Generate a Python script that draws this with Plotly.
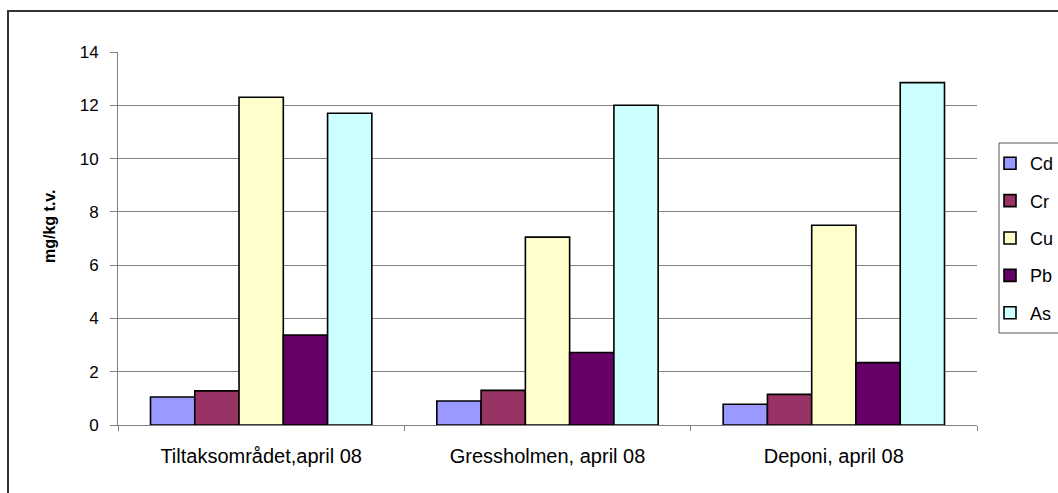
import plotly.graph_objects as go

# Sampling sites and metal concentrations (mg/kg t.v.)
sites = ["Tiltaksområdet,april 08", "Gressholmen, april 08", "Deponi, april 08"]
metals = ["Cd", "Cr", "Cu", "Pb", "As"]
cd = [1.05, 0.9, 0.78]
cr = [1.28, 1.3, 1.15]
cu = [12.3, 7.05, 7.5]
pb = [3.38, 2.72, 2.34]
as_ = [11.7, 12.0, 12.85]
colors = ["#9999FF", "#993366", "#FFFFCC", "#660066", "#CCFFFF"]

series = [cd, cr, cu, pb, as_]

W, H = 1058, 493
L, R, T, B = 118, 81, 52, 68
pw, ph = W - L - R, H - T - B


def px_x(x):
    return (x - L) / pw


def px_y(y):
    return (H - B - y) / ph


FONT = "Liberation Sans, Arial, sans-serif"

fig = go.Figure()
for name, vals, col in zip(metals, series, colors):
    fig.add_trace(go.Bar(
        x=sites, y=vals, name=name, legendgroup=name,
        marker=dict(color=col, line=dict(color="#000000", width=1.6)),
    ))

fig.update_layout(
    width=W, height=H,
    margin=dict(l=L, r=R, t=T, b=B, autoexpand=False),
    paper_bgcolor="white", plot_bgcolor="white",
    barmode="group", bargap=0.227, bargroupgap=0,
    font=dict(family=FONT, size=17, color="#000000"),
    showlegend=True,
    legend=dict(
        x=px_x(990), y=px_y(145), xanchor="left", yanchor="top",
        bgcolor="rgba(0,0,0,0)", borderwidth=0,
        tracegroupgap=11, font=dict(size=18),
        itemclick=False,
    ),
    xaxis=dict(
        showgrid=False, showline=True, linecolor="#808080", linewidth=1,
        ticks="outside", tickson="boundaries", ticklen=5, tickcolor="#808080",
        ticklabelstandoff=13,
        tickfont=dict(size=20),
    ),
    yaxis=dict(
        range=[0, 14], dtick=2, tick0=0,
        showgrid=True, gridcolor="#808080", gridwidth=1,
        showline=True, linecolor="#808080", linewidth=1,
        ticks="outside", ticklen=7, tickcolor="#808080",
        ticklabelstandoff=8, zeroline=False,
        tickfont=dict(size=17),
    ),
    annotations=[dict(
        text="<b>mg/kg t.v.</b>", textangle=-90,
        xref="paper", yref="paper", x=px_x(49), y=px_y(226),
        xanchor="center", yanchor="middle", showarrow=False,
        font=dict(size=16, family=FONT),
    )],
    shapes=[
        # chart frame
        dict(type="rect", xref="paper", yref="paper",
             x0=px_x(8), x1=px_x(1080), y0=px_y(510), y1=px_y(11),
             line=dict(color="#333333", width=2), fillcolor="rgba(0,0,0,0)",
             layer="below"),
        # legend frame
        dict(type="rect", xref="paper", yref="paper",
             x0=px_x(999), x1=px_x(1080), y0=px_y(333), y1=px_y(143),
             line=dict(color="#555555", width=1), fillcolor="rgba(0,0,0,0)"),
    ],
)

fig.write_html("out.html")
